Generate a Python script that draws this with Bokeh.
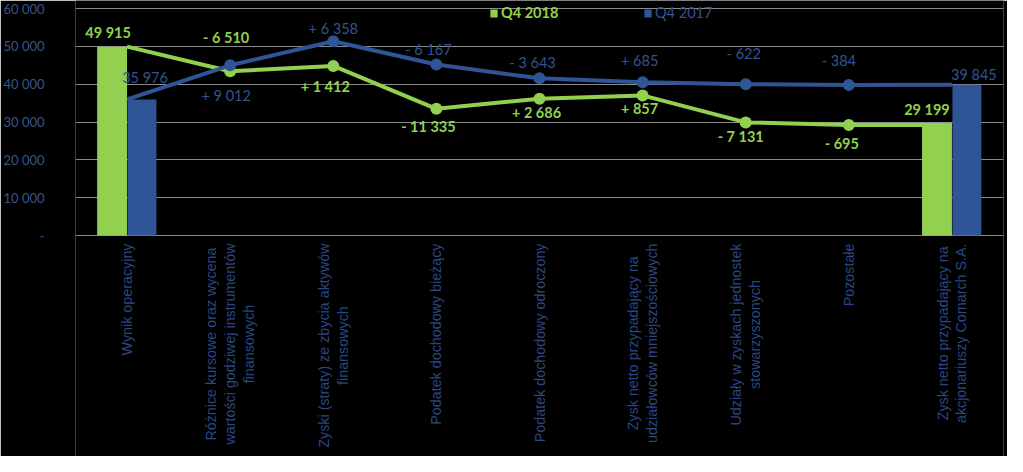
import numpy as np
from bokeh.plotting import figure
from bokeh.models import Range1d, ColumnDataSource, Legend, LegendItem
from bokeh.core.properties import value
from bokeh.embed import file_html
from bokeh.resources import INLINE

# ---------------- data ----------------
categories = [
    "Wynik operacyjny",
    "Różnice kursowe oraz wycena\nwartości godziwej instrumentów\nfinansowych",
    "Zyski (straty) ze zbycia aktywów\nfinansowych",
    "Podatek dochodowy bieżący",
    "Podatek dochodowy odroczony",
    "Zysk netto przypadający na\nudziałowców mniejszościowych",
    "Udziały w zyskach jednostek\nstowarzyszonych",
    "Pozostałe",
    "Zysk netto przypadający na\nakcjonariuszy Comarch S.A.",
]
series_names = ["Q4 2018", "Q4 2017"]
green_values = [49915, 43405, 44817, 33482, 36168, 37025, 29894, 29199, 29199]
blue_values = [35976, 44988, 51346, 45179, 41536, 40500, 40000, 39750, 39845]
green_labels = ["49 915", "- 6 510", "+ 1 412", "- 11 335", "+ 2 686", "+ 857", "- 7 131", "- 695", "29 199"]
blue_labels = ["35 976", "+ 9 012", "+ 6 358", "- 6 167", "- 3 643", "+ 685", "- 622", "- 384", "39 845"]
bar_index = [0, 8]
y_ticks = [0, 10000, 20000, 30000, 40000, 50000, 60000]
y_tick_labels = ["-", "10 000", "20 000", "30 000", "40 000", "50 000", "60 000"]

# ---------------- style ----------------
GREEN = "#92D050"
BLUE = "#2F5597"
BLUE_TEXT = "#34548F"
CAT_TEXT = "#2B4783"
GRID = "#8c8c8c"
green_label_dy = [-14, -34, 21, 18, 14, 13, 14, 18, -16]
blue_label_dy = [-22, 30, -13, -15, -16, -22, -31, -25, -10]
green_label_dx = [-4, -4, -8, -8, -3, -3, -5, -7, -10]
blue_label_dx = [3, -4, 0, -8, -7, -3, -2, -10, 7]

W, H = 1007, 456
left_px, right_px = 72, 4
top_px, zero_px = 8, 235
k = (zero_px - top_px) / 60000.0
y_end = 60000 + top_px / k
y_start = -(H - zero_px) / k

n = len(categories)
xc = np.arange(n) + 0.5
dodge = 0.145
bw = 0.29

p = figure(width=W, height=H, x_range=Range1d(0, n), y_range=Range1d(y_start, y_end),
           output_backend="svg", toolbar_location=None, x_axis_location=None,
           min_border_left=left_px, min_border_right=right_px, min_border_top=0, min_border_bottom=0)
p.background_fill_color = "black"
p.border_fill_color = "black"
p.outline_line_color = None

p.xgrid.visible = False
p.yaxis.ticker = y_ticks
p.yaxis.major_label_overrides = {t: s for t, s in zip(y_ticks, y_tick_labels)}
p.yaxis.axis_line_color = None
p.yaxis.major_tick_line_color = None
p.yaxis.minor_tick_line_color = None
p.yaxis.major_label_standoff = 25
p.yaxis.major_label_text_color = BLUE_TEXT
p.yaxis.major_label_text_font = "Lato"
p.yaxis.major_label_text_font_size = "13px"
p.ygrid.grid_line_color = GRID
p.ygrid.grid_line_width = 1

gi = np.array(bar_index)
g_bar = p.vbar(x=xc[gi] - dodge, width=bw, bottom=0, top=np.array(green_values)[gi],
               fill_color=GREEN, line_color=None)
b_bar = p.vbar(x=xc[gi] + dodge, width=bw - 0.01, bottom=0, top=np.array(blue_values)[gi],
               fill_color=BLUE, line_color=None)

mid = np.arange(1, n - 1)
p.line(xc, green_values, line_color=GREEN, line_width=4)
p.scatter(xc[mid], np.array(green_values)[mid], size=12, fill_color=GREEN, line_color=None)
p.line(xc, blue_values, line_color=BLUE, line_width=4)
p.scatter(xc[mid], np.array(blue_values)[mid], size=12, fill_color=BLUE, line_color=None)

# value labels
gx = xc.copy(); gx[0] -= dodge; gx[-1] -= dodge
bx = xc.copy(); bx[0] += dodge; bx[-1] += dodge
gsrc = ColumnDataSource(dict(x=gx, y=green_values, t=green_labels, dy=green_label_dy, dx=green_label_dx))
bsrc = ColumnDataSource(dict(x=bx, y=blue_values, t=blue_labels, dy=blue_label_dy, dx=blue_label_dx))
p.text(x="x", y="y", text="t", source=gsrc, x_offset="dx", y_offset="dy",
       text_font=value("Lato"), text_font_size="14.5px", text_font_style="bold",
       text_color=GREEN, text_align="center", text_baseline="middle")
p.text(x="x", y="y", text="t", source=bsrc, x_offset="dx", y_offset="dy",
       text_font=value("Lato"), text_font_size="14.5px", text_font_style="normal",
       text_color=BLUE_TEXT, text_align="center", text_baseline="middle")

# category labels
csrc = ColumnDataSource(dict(x=xc, y=np.zeros(n), t=categories))
p.text(x="x", y="y", text="t", source=csrc, angle=np.pi / 2, anchor=value("center_right"),
       y_offset=8, text_font=value("Liberation Sans"), text_font_size="14.3px",
       text_color=CAT_TEXT, text_align="center", text_baseline="middle", text_line_height=1.17)

# legends
leg_common = dict(orientation="horizontal", padding=0, margin=0, glyph_width=9, glyph_height=10,
                  label_height=14, label_standoff=3, label_text_font="Lato", label_text_font_size="14.5px",
                  background_fill_alpha=0, border_line_alpha=0)
leg1 = Legend(items=[LegendItem(label=series_names[0], renderers=[g_bar])], location=(486 - left_px, H - 21),
              label_text_font_style="bold", label_text_color=GREEN, **leg_common)
leg2 = Legend(items=[LegendItem(label=series_names[1], renderers=[b_bar])], location=(640 - left_px, H - 21),
              label_text_font_style="normal", label_text_color=BLUE_TEXT, **leg_common)
p.add_layout(leg1)
p.add_layout(leg2)

open("out.html", "w").write(file_html(p, INLINE))
